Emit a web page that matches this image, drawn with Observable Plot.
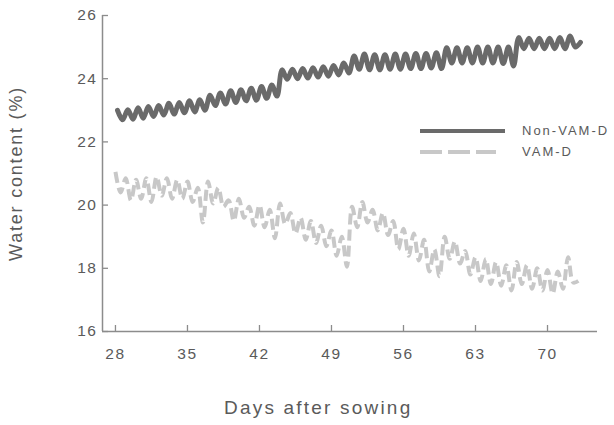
<!DOCTYPE html>
<html><head><meta charset="utf-8">
<script src="https://cdn.jsdelivr.net/npm/d3@7"></script>
<script src="https://cdn.jsdelivr.net/npm/@observablehq/plot@0.6"></script>
<style>
body{margin:0;background:#fff;}
#wrap{position:relative;width:614px;height:425px;overflow:hidden;}
#wrap svg text{font-family:"Liberation Sans",Arial,sans-serif;}
g[aria-label="x-axis tick label"] text, g[aria-label="y-axis tick label"] text{letter-spacing:1.5px;}
g[aria-label="y-axis label"] text{font-size:18px;letter-spacing:1.8px;}
.overlay{position:absolute;left:0;top:0;font-family:"Liberation Sans",Arial,sans-serif;color:#5a5a5a;}
.overlay .item{position:absolute;white-space:nowrap;font-size:13px;letter-spacing:2px;}
.overlay .xtitle{position:absolute;white-space:nowrap;font-size:19px;letter-spacing:2.2px;left:224px;top:397px;}
</style></head><body>
<div id="wrap"></div>
<script>
// Days after sowing: first sample day, half-day sampling (alternating day peak / night trough)
const nonVamStartDay = 28.2;
const vamStartDay = 28.0;
const sampleStep = 0.5;

// Non-VAM-D water content (%)
const nonVamD = [
  23.00,22.70, 23.02,22.72, 23.08,22.75, 23.12,22.80, 23.15,22.85, 23.22,22.88,
  23.25,22.92, 23.30,22.95, 23.33,23.00, 23.48,23.15, 23.55,23.20, 23.62,23.25,
  23.65,23.30, 23.70,23.32, 23.75,23.38, 23.80,23.45,
  24.28,23.98, 24.30,24.00, 24.32,24.02, 24.35,24.05, 24.38,24.08, 24.42,24.12,
  24.50,24.18, 24.72,24.30,
  24.78,24.28, 24.76,24.28, 24.76,24.30, 24.78,24.30, 24.78,24.32, 24.80,24.32,
  24.80,24.34, 24.82,24.32,
  24.98,24.50, 24.98,24.50, 24.98,24.50, 25.00,24.50, 25.00,24.50, 25.00,24.48,
  25.00,24.40,
  25.30,24.95, 25.28,24.95, 25.28,24.95, 25.28,24.95, 25.30,24.95, 25.35,25.00,
  25.15
];

// VAM-D water content (%)
const vamD = [
  21.05,20.40, 20.85,20.15, 20.80,20.20, 20.85,20.10, 20.90,20.30, 20.85,20.20,
  20.80,20.20, 20.75,20.10, 20.55,19.45, 20.75,20.05, 20.55,19.95, 20.15,19.50,
  20.20,19.60, 19.95,19.35, 20.00,19.30, 19.85,18.95, 20.05,19.40, 19.75,19.10,
  19.60,18.90, 19.50,18.80, 19.35,18.70, 19.20,18.40, 19.00,18.05,
  19.95,19.30, 20.10,19.45, 19.85,19.20, 19.75,19.05, 19.50,18.60, 19.25,18.40,
  19.10,18.25, 18.90,17.90, 18.60,17.75, 19.00,18.30, 18.85,18.15, 18.55,17.80,
  18.35,17.60, 18.30,17.50, 18.20,17.45, 18.10,17.30, 18.20,17.50, 18.10,17.35,
  18.00,17.30, 17.95,17.20, 17.90,17.35, 18.35,17.55,
  17.60
];

const seriesNames = ["Non-VAM-D", "VAM-D"];
const xTicks = [28, 35, 42, 49, 56, 63, 70];
const yTicks = [16, 18, 20, 22, 24, 26];
const xTitle = "Days after sowing";
const yTitle = "Water content (%)";
const xDomain = [26.74, 74.86];
const yDomain = [16, 26];

const rows = [
  ...nonVamD.map((v, i) => ({day: nonVamStartDay + i * sampleStep, wc: v, series: seriesNames[0]})),
  ...vamD.map((v, i) => ({day: vamStartDay + i * sampleStep, wc: v, series: seriesNames[1]}))
];

const axisColor = "#8c8c8c";
const textColor = "#5a5a5a";
const darkColor = "#6a6a6a";
const lightColor = "#c8c8c8";

const chart = Plot.plot({
  width: 614, height: 425,
  marginLeft: 102, marginRight: 17, marginTop: 15, marginBottom: 94,
  x: {domain: xDomain},
  y: {domain: yDomain},
  style: {fontFamily: '"Liberation Sans", Arial, sans-serif', color: textColor, background: "#fff", overflow: "visible"},
  marks: [
    Plot.line(rows.filter(d => d.series === seriesNames[1]), {x: "day", y: "wc", stroke: lightColor, strokeWidth: 4, strokeDasharray: "11,5", curve: "catmull-rom", strokeLinecap: "butt"}),
    Plot.line(rows.filter(d => d.series === seriesNames[0]), {x: "day", y: "wc", stroke: darkColor, strokeWidth: 5, curve: "catmull-rom"}),
    Plot.ruleY([yDomain[0]], {stroke: axisColor, strokeWidth: 1.5}),
    Plot.ruleX([xDomain[0]], {stroke: axisColor, strokeWidth: 1.5}),
    Plot.axisX({ticks: xTicks, tickSize: 6, dy: -6, stroke: axisColor, strokeWidth: 1.3, fill: "none", label: null}),
    Plot.axisX({ticks: xTicks, tickSize: 0, tickPadding: 16, fontSize: 15.5, fill: textColor, label: null}),
    Plot.axisY({ticks: yTicks, tickSize: 6, dx: 6, stroke: axisColor, strokeWidth: 1.3, fill: "none", label: null}),
    Plot.axisY({ticks: yTicks, tickSize: 0, tickPadding: 5, fontSize: 15.5, fill: textColor, label: yTitle, labelAnchor: "center", labelOffset: 93, labelArrow: "none"})
  ]
});

const wrap = document.getElementById("wrap");
wrap.appendChild(chart);

// legend (inside plot area, top right) and x-axis title
const overlay = document.createElement("div");
overlay.className = "overlay";
overlay.innerHTML = `
  <svg style="position:absolute;left:418px;top:124px" width="90" height="36">
    <line x1="2" y1="7" x2="87" y2="7" stroke="${darkColor}" stroke-width="4"/>
    <line x1="2" y1="28" x2="78" y2="28" stroke="${lightColor}" stroke-width="4" stroke-dasharray="22,6"/>
  </svg>
  <div class="item" style="left:522px;top:123px">${seriesNames[0]}</div>
  <div class="item" style="left:522px;top:144px">${seriesNames[1]}</div>
  <div class="xtitle">${xTitle}</div>`;
wrap.appendChild(overlay);
</script>
</body></html>
